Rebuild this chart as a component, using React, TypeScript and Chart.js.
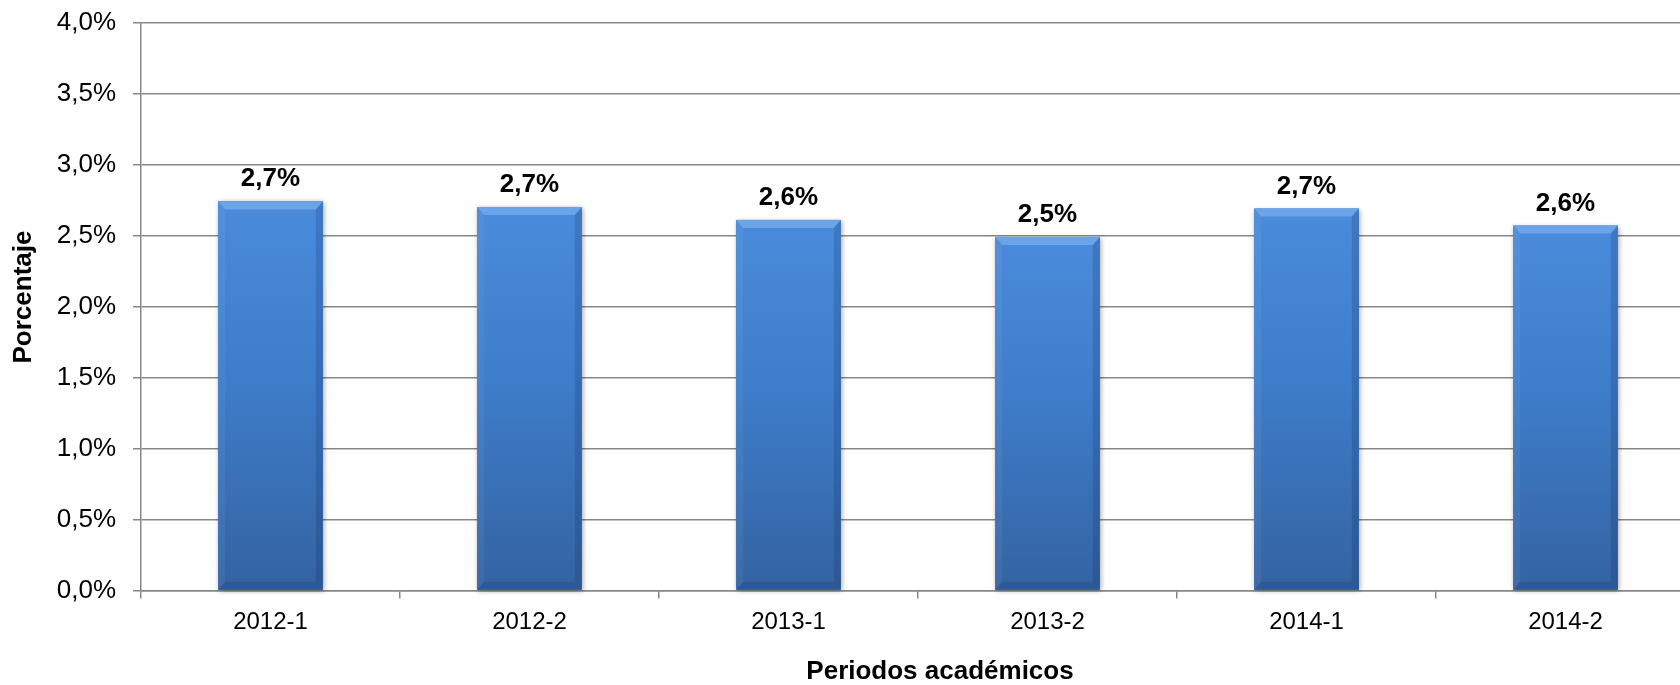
import React, { useEffect, useRef } from "react";
import { Chart, registerables } from "chart.js";

Chart.register(...registerables);

const categories = ["2012-1", "2012-2", "2013-1", "2013-2", "2014-1", "2014-2"];
const values = [2.74, 2.7, 2.61, 2.49, 2.69, 2.57];
const yMin = 0;
const yMax = 4;
const yStep = 0.5;
const xTitle = "Periodos académicos";
const yTitle = "Porcentaje";

const CSS_W = 1700;
const H = 685;
const FONT = '"Liberation Sans", Arial, Helvetica, sans-serif';
const GRID = "#878787";

const fmt = (v: number) => v.toFixed(1).replace(".", ",") + "%";

const barFx = {
  id: "barFx",
  beforeDatasetsDraw(chart: any) {
    const ctx = chart.ctx;
    const meta = chart.getDatasetMeta(0);
    ctx.save();
    meta.data.forEach((bar: any) => {
      const { x, y, base, width } = bar.getProps(["x", "y", "base", "width"], true);
      ctx.shadowColor = "rgba(0,0,0,0.35)";
      ctx.shadowBlur = 5;
      ctx.shadowOffsetX = 1;
      ctx.shadowOffsetY = 1;
      ctx.fillStyle = "#3a6fb5";
      ctx.fillRect(x - width / 2, y, width, base - y);
    });
    ctx.restore();
  },
  afterDatasetsDraw(chart: any) {
    const ctx = chart.ctx;
    const meta = chart.getDatasetMeta(0);
    ctx.save();
    meta.data.forEach((bar: any, i: number) => {
      const { x, y, base, width } = bar.getProps(["x", "y", "base", "width"], true);
      const x0 = x - width / 2;
      const x1 = x + width / 2;
      const bx = 7;
      const by = 8;
      // top bevel
      ctx.beginPath();
      ctx.moveTo(x0, y);
      ctx.lineTo(x1, y);
      ctx.lineTo(x1 - bx, y + by);
      ctx.lineTo(x0 + bx, y + by);
      ctx.closePath();
      ctx.fillStyle = "rgba(140,190,245,0.5)";
      ctx.fill();
      // left bevel
      ctx.beginPath();
      ctx.moveTo(x0, y);
      ctx.lineTo(x0 + bx, y + by);
      ctx.lineTo(x0 + bx, base - by);
      ctx.lineTo(x0, base);
      ctx.closePath();
      ctx.fillStyle = "rgba(255,255,255,0.05)";
      ctx.fill();
      // right bevel
      ctx.beginPath();
      ctx.moveTo(x1, y);
      ctx.lineTo(x1 - bx, y + by);
      ctx.lineTo(x1 - bx, base - by);
      ctx.lineTo(x1, base);
      ctx.closePath();
      ctx.fillStyle = "rgba(0,20,60,0.15)";
      ctx.fill();
      // bottom bevel
      ctx.beginPath();
      ctx.moveTo(x0, base);
      ctx.lineTo(x0 + bx, base - by);
      ctx.lineTo(x1 - bx, base - by);
      ctx.lineTo(x1, base);
      ctx.closePath();
      ctx.fillStyle = "rgba(0,20,60,0.12)";
      ctx.fill();
      // label
      ctx.fillStyle = "#000";
      ctx.font = `bold 26px ${FONT}`;
      ctx.textAlign = "center";
      ctx.textBaseline = "alphabetic";
      ctx.fillText(fmt(values[i]), x, y - 15);
    });
    ctx.restore();
  },
};

const axisTitles = {
  id: "axisTitles",
  afterDraw(chart: any) {
    const ctx = chart.ctx;
    ctx.save();
    ctx.fillStyle = "#000";
    ctx.font = `bold 26px ${FONT}`;
    ctx.textAlign = "center";
    ctx.textBaseline = "middle";
    ctx.fillText(xTitle, 940, 672);
    ctx.translate(24, 297);
    ctx.rotate(-Math.PI / 2);
    ctx.fillText(yTitle, 0, 0);
    ctx.restore();
  },
};

export default function App() {
  const ref = useRef<HTMLCanvasElement | null>(null);

  useEffect(() => {
    if (!ref.current) return;
    const chart = new Chart(ref.current, {
      type: "bar",
      data: {
        labels: categories,
        datasets: [
          {
            data: values,
            backgroundColor: (c: any) => {
              const ch = c.chart;
              const area = ch.chartArea;
              if (!area) return "#3f7dc9";
              const y = ch.scales.y;
              const top = y.getPixelForValue(c.raw ?? values[c.dataIndex] ?? 0);
              const bottom = y.getPixelForValue(0);
              const g = ch.ctx.createLinearGradient(0, top, 0, bottom);
              g.addColorStop(0, "#4a8bdb");
              g.addColorStop(0.45, "#3e7dca");
              g.addColorStop(1, "#3463a2");
              return g;
            },
            borderWidth: 0,
            barPercentage: 0.404,
            categoryPercentage: 1,
          },
        ],
      },
      options: {
        responsive: false,
        animation: false,
        devicePixelRatio: 1,
        layout: { padding: { top: 22.5, right: CSS_W - 1695, bottom: 0, left: 0 } },
        plugins: {
          legend: { display: false },
          tooltip: { enabled: false },
          title: { display: false },
        },
        scales: {
          x: {
            type: "category",
            offset: true,
            grid: {
              offset: true,
              drawOnChartArea: false,
              drawTicks: true,
              tickLength: 8,
              color: GRID,
              lineWidth: 1.5,
            },
            border: { display: true, color: GRID, width: 1.5 },
            ticks: {
              font: { family: FONT, size: 24 },
              color: "#000",
              padding: 9,
              maxRotation: 0,
              autoSkip: false,
            },
            afterFit: (s: any) => {
              s.height = H - 590.5;
              s.paddingLeft = 0;
              s.paddingRight = 0;
            },
          },
          y: {
            min: yMin,
            max: yMax,
            grid: {
              color: GRID,
              lineWidth: 1.5,
              drawTicks: true,
              tickLength: 8,
            },
            border: { display: true, color: GRID, width: 1.5 },
            ticks: {
              stepSize: yStep,
              font: { family: FONT, size: 26 },
              color: "#000",
              padding: 17,
              callback: (v: any) => fmt(Number(v)),
            },
            afterFit: (s: any) => {
              s.width = 141;
              s.paddingTop = 0;
              s.paddingBottom = 0;
            },
          },
        },
      },
      plugins: [barFx, axisTitles],
    });
    return () => chart.destroy();
  }, []);

  return (
    <div
      style={{
        position: "fixed",
        left: 0,
        top: 0,
        width: 1680,
        height: H,
        overflow: "hidden",
        background: "#fff",
      }}
    >
      <canvas
        ref={ref}
        width={CSS_W}
        height={H}
        style={{ width: CSS_W + "px", height: H + "px", display: "block" }}
      />
    </div>
  );
}
